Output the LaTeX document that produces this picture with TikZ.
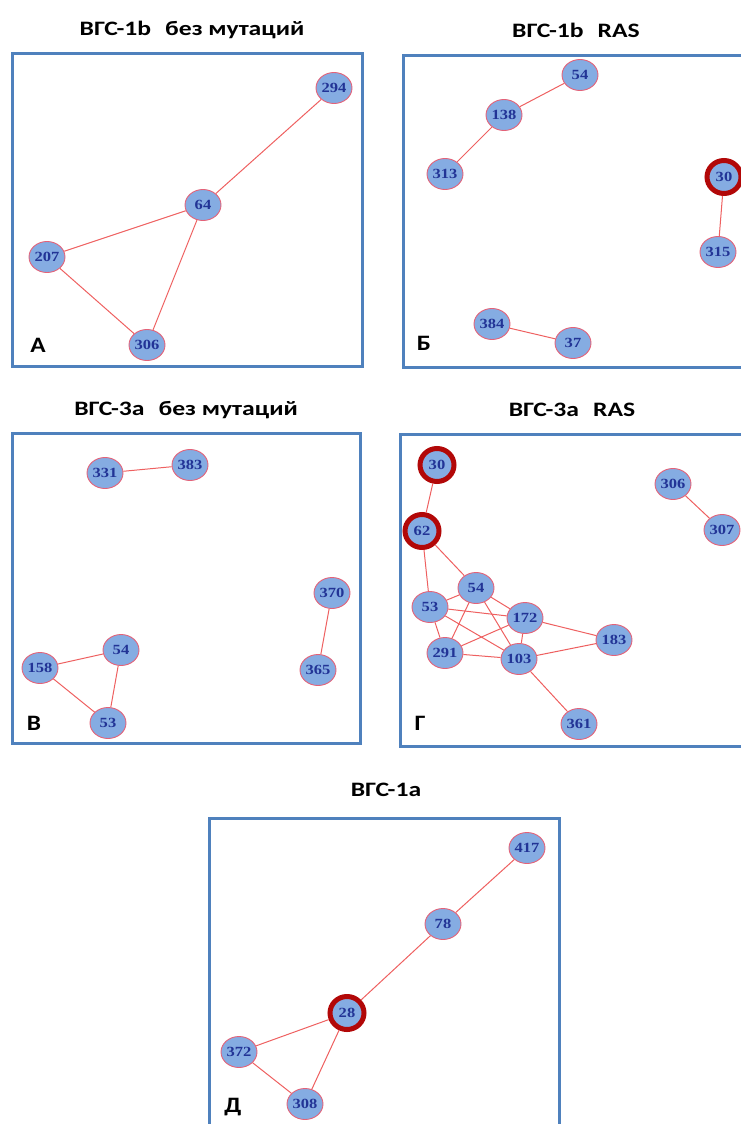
\documentclass[tikz,border=0pt]{standalone}
\usepackage{fontspec}
\setmainfont{Liberation Serif}
\newfontfamily\titlefont{Carlito}
\usetikzlibrary{shapes.geometric}
\definecolor{boxblue}{RGB}{79,129,189}
\definecolor{nodefill}{RGB}{133,172,226}
\definecolor{nodeborder}{RGB}{228,98,120}
\definecolor{ringred}{RGB}{178,8,8}
\definecolor{edgered}{RGB}{238,96,96}
\definecolor{numblue}{RGB}{34,52,150}
\newcommand\xstretchtext[2]{\scalebox{#1}[1]{#2}}
\tikzset{
  nd/.style={ellipse, draw=nodeborder, line width=0.9pt, fill=nodefill,
    minimum width=36pt, minimum height=31pt, inner sep=0pt,
    text=numblue, font=\bfseries\fontsize{14}{14}\selectfont},
  rnd/.style={nd, draw=ringred, line width=5pt, minimum width=34pt, minimum height=33pt},
  edge/.style={draw=edgered, line width=1pt},
  panelbox/.style={draw=boxblue, line width=3pt},
  ttl/.style={font=\titlefont\bfseries\fontsize{20.5}{20.5}\selectfont, text=black},
  plabel/.style={font=\titlefont\bfseries\fontsize{22}{22}\selectfont, text=black}
}
\newcommand\num[1]{\xstretchtext{1.18}{#1}}
\newcommand\ttltext[1]{\xstretchtext{1.25}{#1}}
\begin{document}
\begin{tikzpicture}[x=1pt,y=-1pt]
\useasboundingbox (0,0) rectangle (741,1124);
% titles
\node[ttl] (t1) at (192,30) {\ttltext{ВГС-1b\hspace{0.55em}без мутаций}};
\node[ttl] (t2) at (576,30) {\ttltext{ВГС-1b\hspace{0.55em}RAS}};
\node[ttl] (t3) at (186,410) {\ttltext{ВГС-3а\hspace{0.55em}без мутаций}};
\node[ttl] (t4) at (572,410) {\ttltext{ВГС-3а\hspace{0.55em}RAS}};
\node[ttl] (t5) at (386,790) {\ttltext{ВГС-1а}};
% boxes
\draw[panelbox] (12,54) rectangle (362,366);
\draw[panelbox] (403,56) rectangle (760,367);
\draw[panelbox] (12,433) rectangle (360,743);
\draw[panelbox] (400,434) rectangle (760,746);
\draw[panelbox] (209,818) rectangle (559,1140);
% Panel A
\node[nd] (a294) at (334,88) {\num{294}};
\node[nd] (a64) at (203,205) {\num{64}};
\node[nd] (a207) at (47,257) {\num{207}};
\node[nd] (a306) at (147,345) {\num{306}};
\draw[edge] (a294) -- (a64);
\draw[edge] (a64) -- (a207);
\draw[edge] (a64) -- (a306);
\draw[edge] (a207) -- (a306);
\node[plabel] (la) at (38,345) {\xstretchtext{1.15}{А}};
% Panel B
\node[nd] (b54) at (580,75) {\num{54}};
\node[nd] (b138) at (504,115) {\num{138}};
\node[nd] (b313) at (445,174) {\num{313}};
\node[rnd] (b30) at (724,177) {\num{30}};
\node[nd] (b315) at (718,252) {\num{315}};
\node[nd] (b384) at (492,324) {\num{384}};
\node[nd] (b37) at (573,343) {\num{37}};
\draw[edge] (b54) -- (b138);
\draw[edge] (b138) -- (b313);
\draw[edge] (b30) -- (b315);
\draw[edge] (b384) -- (b37);
\node[plabel] (lb) at (424,343) {\xstretchtext{1.15}{Б}};
% Panel V
\node[nd] (c331) at (105,473) {\num{331}};
\node[nd] (c383) at (190,465) {\num{383}};
\node[nd] (c370) at (332,593) {\num{370}};
\node[nd] (c365) at (318,670) {\num{365}};
\node[nd] (c54) at (121,650) {\num{54}};
\node[nd] (c158) at (40,668) {\num{158}};
\node[nd] (c53) at (108,723) {\num{53}};
\draw[edge] (c331) -- (c383);
\draw[edge] (c370) -- (c365);
\draw[edge] (c158) -- (c54);
\draw[edge] (c54) -- (c53);
\draw[edge] (c158) -- (c53);
\node[plabel] (lc) at (34,723) {\xstretchtext{1.15}{В}};
% Panel G
\node[rnd] (d30) at (437,465) {\num{30}};
\node[rnd] (d62) at (422,531) {\num{62}};
\node[nd] (d54) at (476,588) {\num{54}};
\node[nd] (d53) at (430,607) {\num{53}};
\node[nd] (d172) at (525,618) {\num{172}};
\node[nd] (d183) at (614,640) {\num{183}};
\node[nd] (d291) at (445,653) {\num{291}};
\node[nd] (d103) at (519,659) {\num{103}};
\node[nd] (d361) at (579,724) {\num{361}};
\node[nd] (d306) at (673,484) {\num{306}};
\node[nd] (d307) at (722,530) {\num{307}};
\draw[edge] (d30) -- (d62);
\draw[edge] (d62) -- (d53);
\draw[edge] (d62) -- (d54);
\draw[edge] (d54) -- (d53);
\draw[edge] (d54) -- (d172);
\draw[edge] (d54) -- (d291);
\draw[edge] (d54) -- (d103);
\draw[edge] (d53) -- (d172);
\draw[edge] (d53) -- (d103);
\draw[edge] (d53) -- (d291);
\draw[edge] (d291) -- (d172);
\draw[edge] (d291) -- (d103);
\draw[edge] (d172) -- (d103);
\draw[edge] (d172) -- (d183);
\draw[edge] (d103) -- (d183);
\draw[edge] (d103) -- (d361);
\draw[edge] (d306) -- (d307);
\node[plabel] (ld) at (420,723) {\xstretchtext{1.15}{Г}};
% Panel D
\node[nd] (e417) at (527,848) {\num{417}};
\node[nd] (e78) at (443,924) {\num{78}};
\node[rnd] (e28) at (347,1013) {\num{28}};
\node[nd] (e372) at (239,1052) {\num{372}};
\node[nd] (e308) at (305,1104) {\num{308}};
\draw[edge] (e417) -- (e78);
\draw[edge] (e78) -- (e28);
\draw[edge] (e28) -- (e372);
\draw[edge] (e28) -- (e308);
\draw[edge] (e372) -- (e308);
\node[plabel] (le) at (233,1107) {\xstretchtext{1.15}{Д}};
\end{tikzpicture}
\end{document}
